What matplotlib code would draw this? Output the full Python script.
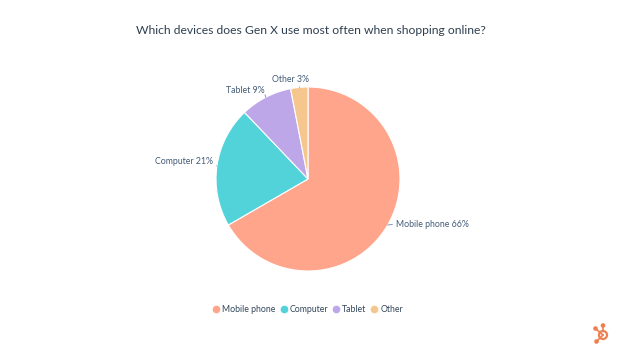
import matplotlib.pyplot as plt
import numpy as np
from matplotlib.patches import Circle

# data
devices = ['Mobile phone', 'Computer', 'Tablet', 'Other']
shares = [66, 21, 9, 3]
colors = ['#ffa58c', '#51d3d9', '#bea7e8', '#f5c78e']

plt.rcParams['font.family'] = ['Lato', 'DejaVu Sans']
text_col = '#33475b'
label_col = '#425b76'

fig = plt.figure(figsize=(6.24, 3.47), dpi=100)

# pie axes: center at (308,179) px, radius 92 px
W, H = 624, 347
cx, cy, r = 308, 179, 92
ax = fig.add_axes([(cx - r) / W, (H - cy - r) / H, 2 * r / W, 2 * r / H])
wedges, _ = ax.pie(shares, colors=colors, startangle=90, counterclock=False,
                   radius=1, wedgeprops=dict(edgecolor='white', linewidth=0.8))
ax.set_xlim(-1, 1)
ax.set_ylim(-1, 1)
ax.set_aspect('equal')
ax.axis('off')

# labels with short leader lines
label_pos = [(0.955, -0.49, 'left', (0, 0.5)), (-1.03, 0.185, 'right', (1, 0.2)),
             (-0.47, 0.96, 'right', (1, 0.1)), (-0.19, 1.08, 'center', (0.75, 0))]
for w, name, val, (tx, ty, ha, rp) in zip(wedges, devices, shares, label_pos):
    ang = np.deg2rad((w.theta1 + w.theta2) / 2)
    ex, ey = np.cos(ang), np.sin(ang)
    ax.annotate(f'{name} {val}%', xy=(ex, ey), xytext=(tx, ty),
                ha=ha, va='center', fontsize=6.3, color=label_col,
                annotation_clip=False,
                arrowprops=dict(arrowstyle='-', color='#7c98b6', lw=0.7,
                                shrinkA=0.5, shrinkB=0, relpos=rp))

fig.text(311 / W, 1 - 31 / H, 'Which devices does Gen X use most often when shopping online?',
         ha='center', va='center', fontsize=8.7, color='#2d3e50')

handles = [plt.Line2D([], [], marker='o', linestyle='', markersize=4.5,
                      markerfacecolor=c, markeredgecolor=c) for c in colors]
fig.legend(handles, devices, loc='center', bbox_to_anchor=(308 / W, 1 - 310 / H),
           ncol=4, frameon=False, fontsize=6.3, handletextpad=0.3,
           handlelength=0.8, columnspacing=0.5, labelcolor=text_col)

# small sprocket logo bottom right
lg = fig.add_axes([0, 0, 1, 1], zorder=-1)
lg.set_xlim(0, W)
lg.set_ylim(H, 0)
lg.axis('off')
orange = '#f07f4f'
lg.plot([603, 603], [331, 326], color=orange, lw=1.2)
lg.plot([603, 596], [335, 329], color=orange, lw=1.2)
lg.plot([603, 597], [335, 341], color=orange, lw=1.2)
lg.add_patch(Circle((603, 335), 4, facecolor='white', edgecolor=orange, lw=1.6))
for p in [(603, 325.5), (595.5, 328.5), (596.5, 341.5)]:
    lg.add_patch(Circle(p, 1.6, color=orange))

fig.savefig('out.png', dpi=100, facecolor='white')
